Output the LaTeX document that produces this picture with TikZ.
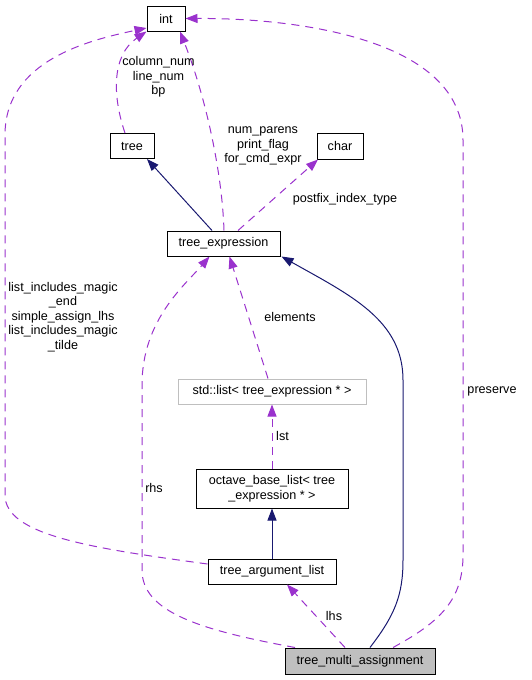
\documentclass[tikz,border=0pt]{standalone}
\usepackage{fontspec}
\setmainfont{Liberation Sans}
\usetikzlibrary{
    arrows.meta
}
\definecolor{usecolor}{RGB}{154,50,205}
\definecolor{inhcolor}{RGB}{25,25,112}
\definecolor{boxgray}{RGB}{191,191,191}
\newcommand{\dotfont}{\fontsize{12.6}{14.5}\selectfont}
\tikzset{
    classbox/.style={draw=black, fill=white, line width=1pt, inner sep=0pt,
        minimum height=25pt, font=\dotfont, align=center},
    extbox/.style={classbox, draw=boxgray},
    mainbox/.style={classbox, fill=boxgray},
    usage/.style={-{Triangle[length=12pt, width=9pt]}, usecolor, line width=1pt,
        dash pattern=on 8pt off 6pt},
    inherit/.style={-{Triangle[length=12pt, width=9pt]}, inhcolor, line width=1pt},
    note/.style={font=\dotfont, align=center, inner sep=0pt}
}

\begin{document}
\begin{tikzpicture}[x=1pt, y=-1pt]
    \useasboundingbox (0,0) rectangle (532,680);
    \node[classbox, minimum width=38pt] (int) at (166,18.5) {int};
    \node[classbox, minimum width=44pt] (tree) at (132,146) {tree};
    \node[classbox, minimum width=46pt, minimum height=26pt] (char) at (340,146) {char};
    \node[classbox, minimum width=113pt] (texpr) at (223.5,243.5) {tree\_expression};
    \node[extbox, minimum width=188pt] (stdlist) at (272,391.5) {std::list< tree\_expression * >};
    \node[classbox, minimum width=152pt, minimum height=39pt] (baselist) at (272,488.5)
        {octave\_base\_list< tree\\\_expression * >};
    \node[classbox, minimum width=128pt] (arglist) at (272,571.5) {tree\_argument\_list};
    \node[mainbox, minimum width=150pt, minimum height=26pt] (multi) at (360,661) {tree\_multi\_assignment};
    \draw[inherit] ([xshift=-11.5pt]texpr.north) -- ([xshift=15pt]tree.south);
    \draw[usage] ([xshift=-7pt]tree.north) .. controls (112,95) and (112,55) .. (int.south west);
    \draw[usage] ([xshift=0.5pt]texpr.north) .. controls (222,170) and (205,95) .. ([xshift=14pt]int.south);
    \draw[usage] ([xshift=14.5pt]texpr.north) -- ([xshift=-22pt]char.south);
    \draw[usage] ([yshift=7.5pt]arglist.west) .. controls (90,548) and (5,535) .. (5,495)
        -- (5,135) .. controls (5,60) and (90,40) .. ([yshift=-9.5pt]int.west);
    \draw[usage] ([xshift=33pt]multi.north) .. controls (440,622) and (463,600) .. (463,555)
        -- (463,140) .. controls (463,40) and (300,18) .. (int.east);
    \draw[usage] ([xshift=-65pt]multi.north) .. controls (200,630) and (142,612) .. (142,570)
        -- (142,385) .. controls (142,320) and (185,285) .. ([xshift=-14pt]texpr.south);
    \draw[usage] ([xshift=-4pt]stdlist.north) -- ([xshift=6pt]texpr.south);
    \draw[usage] (baselist.north) -- (stdlist.south);
    \draw[inherit] (arglist.north) -- (baselist.south);
    \draw[usage] ([xshift=-15pt]multi.north) -- ([xshift=15pt]arglist.south);
    \draw[inherit] ([xshift=10pt]multi.north) .. controls (395,615) and (403,595) .. (403,560)
        -- (403,380) .. controls (403,320) and (350,295) .. ([xshift=58pt]texpr.south);
    \node[note] (lblint) at (158.5,77) {column\_num\\line\_num\\bp};
    \node[note] (lblexpr) at (263,146) {num\_parens\\print\_flag\\for\_cmd\_expr};
    \node[note] (lblchar) at (345,199) {postfix\_index\_type};
    \node[note] (lblmagic) at (63,317) {list\_includes\_magic\\\_end\\simple\_assign\_lhs\\list\_includes\_magic\\\_tilde};
    \node[note] (lblpres) at (492,391) {preserve};
    \node[note] (lblrhs) at (154,488) {rhs};
    \node[note] (lblelem) at (290,317) {elements};
    \node[note] (lbllst) at (282.5,436) {lst};
    \node[note] (lbllhs) at (334,616) {lhs};
\end{tikzpicture}
\end{document}
